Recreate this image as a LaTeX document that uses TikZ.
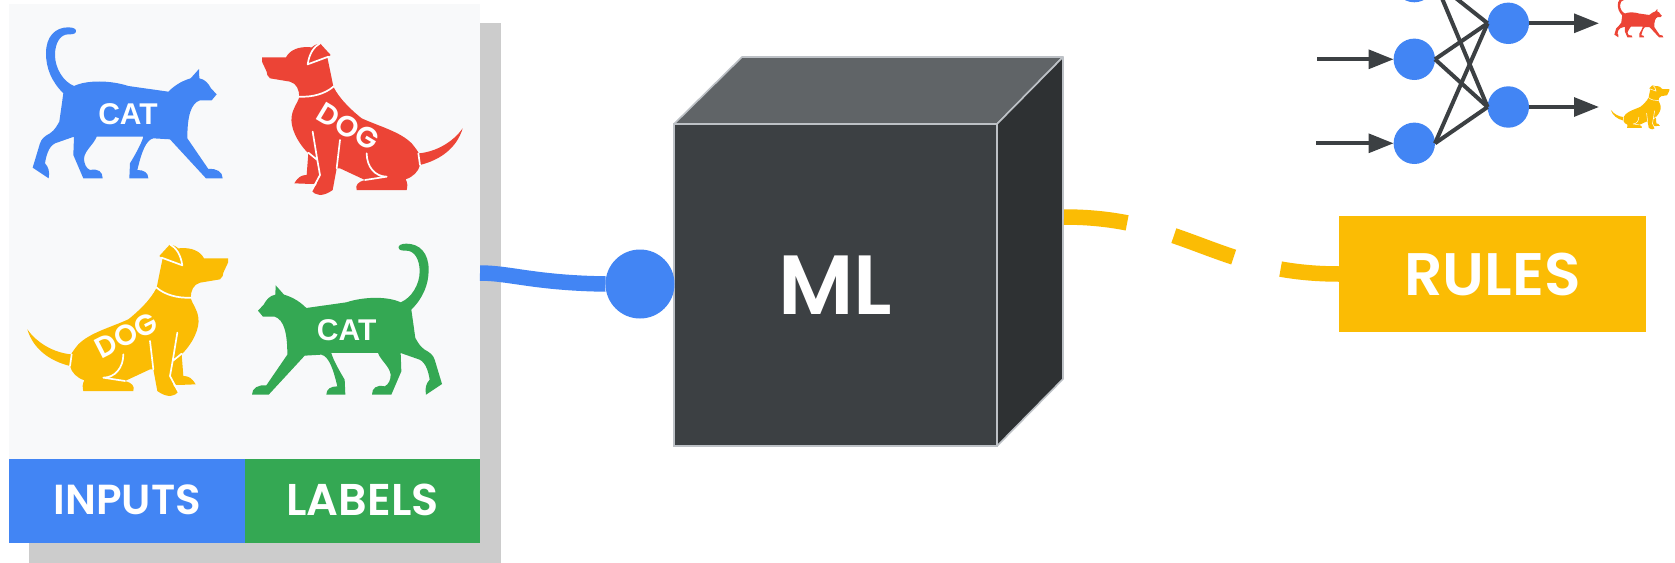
\documentclass[tikz,border=0pt]{standalone}
\usepackage{fontspec}
\setmainfont{Liberation Sans}
\newfontfamily\gs{Poppins SemiBold}
\usetikzlibrary{arrows.meta}
\definecolor{gblue}{HTML}{4285F4}
\definecolor{ggreen}{HTML}{34A853}
\definecolor{gyellow}{HTML}{FBBC04}
\definecolor{gred}{HTML}{EC4436}
\definecolor{panelbg}{HTML}{F8F9FA}
\definecolor{shadowc}{HTML}{CCCCCC}
\definecolor{cubefront}{HTML}{3C4043}
\definecolor{cubetop}{HTML}{606467}
\definecolor{cubeside}{HTML}{2E3133}
\definecolor{cubeedge}{HTML}{BDC1C6}
\newcommand{\catpath}{(190,280) .. controls (155,245) and (138,205) .. (138,160)
 .. controls (138,110) and (165,82) .. (205,82)
 .. controls (222,82) and (230,88) .. (228,95)
 .. controls (226,103) and (215,103) .. (205,103)
 .. controls (180,103) and (165,130) .. (165,165)
 .. controls (165,205) and (190,245) .. (222,258)
 .. controls (260,240) and (330,240) .. (385,258)
 -- (505,275)
 .. controls (530,250) and (555,240) .. (572,235)
 -- (597,207) -- (598,235)
 .. controls (615,238) and (625,250) .. (633,265)
 -- (650,283) -- (635,301) -- (600,301)
 .. controls (572,310) and (562,350) .. (562,415)
 -- (625,507)
 .. controls (650,505) and (668,515) .. (668,535)
 -- (618,535) -- (510,418)
 -- (460,415) .. controls (438,420) and (425,455) .. (412,510)
 .. controls (432,510) and (445,518) .. (445,535)
 -- (388,535) -- (390,490)
 .. controls (405,465) and (425,430) .. (430,410)
 -- (290,410)
 .. controls (280,435) and (255,450) .. (252,475)
 .. controls (252,490) and (258,505) .. (270,510)
 .. controls (295,505) and (308,515) .. (308,535)
 -- (250,535) -- (220,465) -- (222,410) -- (165,430)
 .. controls (145,440) and (138,470) .. (135,490)
 .. controls (145,500) and (150,515) .. (146,535)
 -- (98,503) -- (120,430)
 .. controls (125,415) and (135,408) .. (150,400)
 .. controls (165,390) and (172,375) .. (178,365)
 -- (190,280) -- cycle}
\newcommand{\dogpath}{(66,112) -- (138,112)
 .. controls (150,90) and (175,78) .. (215,82)
 -- (225,75) -- (240,70) -- (272,105) -- (262,112) -- (272,160) -- (280,200)
 .. controls (300,240) and (340,275) .. (365,295)
 .. controls (420,320) and (480,335) .. (515,370)
 .. controls (525,382) and (532,392) .. (537,400)
 .. controls (590,395) and (640,365) .. (668,325)
 .. controls (650,385) and (600,420) .. (540,435)
 .. controls (535,455) and (520,470) .. (497,478)
 .. controls (503,488) and (503,500) .. (500,510)
 -- (350,510)
 .. controls (345,495) and (355,485) .. (375,480)
 -- (300,445) -- (290,445) -- (278,510)
 .. controls (265,520) and (250,525) .. (240,525)
 .. controls (225,522) and (218,518) .. (215,512)
 -- (232,490) -- (215,492) -- (163,490)
 .. controls (175,470) and (185,465) .. (200,465)
 -- (205,400)
 .. controls (170,365) and (150,320) .. (155,290)
 .. controls (158,265) and (172,250) .. (178,232)
 .. controls (178,210) and (170,190) .. (150,185)
 -- (90,175)
 .. controls (82,170) and (80,160) .. (80,155)
 -- (66,125) -- cycle}
\newcommand{\doglines}[1]{%
 \draw[white,line width=#1,line cap=round,line join=round]
  (240,70) .. controls (222,80) and (208,100) .. (203,133) -- (265,110)
  (178,230) .. controls (215,232) and (255,222) .. (280,200)
  (218,335) -- (232,420) -- (240,465) -- (215,512)
  (205,398) -- (232,420)
  (300,360) -- (290,445)
  (380,400) .. controls (380,440) and (405,470) .. (440,470) -- (375,480)
  (535,400) -- (540,435);}
\tikzset{
 box/.style={inner sep=0pt,outer sep=0pt,draw=none},
 bandtext/.style={box,text=white,font=\gs\fontsize{42}{42}\selectfont},
 bodytext/.style={text=white,inner sep=0pt,font=\bfseries\fontsize{30}{30}\selectfont},
 dogtext/.style={text=white,inner sep=0pt,font=\gs\fontsize{29}{29}\selectfont},
 neuron/.style={circle,fill=gblue,draw=none,minimum size=41.4pt,inner sep=0pt,outer sep=0pt},
 edge/.style={draw=cubefront,line width=4pt},
 signal/.style={draw=cubefront,line width=4pt,-{Triangle[length=25pt,width=18.7pt]}},
 cubeface/.style={draw=cubeedge,line width=1.6pt,line join=round}
}
\begin{document}
\begin{tikzpicture}[x=1pt,y=-1pt]
\clip (0,0) rectangle (1675,562);
\fill[white] (0,0) rectangle (1675,562);
% panel
\node[box,fill=shadowc,minimum width=472pt,minimum height=540pt,anchor=north west] (shadow) at (29,23) {};
\node[box,fill=panelbg,minimum width=471pt,minimum height=455pt,anchor=north west] (panel) at (9,4) {};
\node[box,fill=gblue,minimum width=236pt,minimum height=84pt,anchor=north west] (inputs) at (9,459) {};
\node[box,fill=ggreen,minimum width=235pt,minimum height=84pt,anchor=north west] (labels) at (245,459) {};
\node[bandtext] (inputstext) at (127.5,500) {INPUTS};
\node[bandtext,font=\gs\fontsize{44.5}{44.5}\selectfont] (labelstext) at (362.5,500) {LABELS};
% animals
\begin{scope}[shift={(0,0)},scale=1/3]
 \fill[gblue] \catpath;
\end{scope}
\node[bodytext] (cat1) at (128,113.7) {CAT};
\begin{scope}[shift={(474.67,216.33)},xscale=-1/3,yscale=1/3]
 \fill[ggreen] \catpath;
\end{scope}
\node[bodytext] (cat2) at (346.7,330) {CAT};
\begin{scope}[shift={(240,20)},scale=1/3]
 \fill[gred] \dogpath;
 \doglines{1.7pt}
\end{scope}
\node[dogtext,rotate=-31] (dog1) at (348.3,126.7) {DOG};
\begin{scope}[shift={(250,221)},xscale=-1/3,yscale=1/3]
 \fill[gyellow] \dogpath;
 \doglines{1.7pt}
\end{scope}
\node[dogtext,rotate=27] (dog2) at (126.7,335) {DOG};
% cube
\node[box,fill=cubefront,draw=cubeedge,line width=1.6pt,minimum width=323pt,minimum height=322pt,anchor=north west,text=white,font=\gs\fontsize{84}{84}\selectfont] (front) at (674,124) {ML};
\coordinate (tb) at (742,57);
\coordinate (tr) at (1063,57);
\coordinate (br) at (1063,379);
\fill[cubetop,cubeface] (front.north west) -- (tb) -- (tr) -- (front.north east) -- cycle;
\fill[cubeside,cubeface] (front.north east) -- (tr) -- (br) -- (front.south east) -- cycle;
% blue connector
\node[circle,fill=gblue,minimum size=69pt,inner sep=0pt,outer sep=0pt] (dot) at (640,284) {};
\coordinate (bstart) at (480,273);
\draw[gblue,line width=15.5pt] (bstart) .. controls (510,273) and (535,283) .. (dot.west);
% rules
\node[box,fill=gyellow,minimum width=307pt,minimum height=116pt,anchor=north west,text=white,font=\gs\fontsize{60}{60}\selectfont] (rules) at (1339,216) {RULES};
\coordinate (ystart) at (1064,217);
\draw[gyellow,line width=15.5pt,dash pattern=on 63.5pt off 48.5pt] (ystart) .. controls (1185,217) and (1217,274) .. (rules.west);
% network
\node[neuron] (a0) at (1414.3,-18.4) {};
\node[neuron] (a1) at (1414.3,59.3) {};
\node[neuron] (a2) at (1414.3,143.3) {};
\node[neuron] (b1) at (1508.3,23.3) {};
\node[neuron] (b2) at (1508.3,107) {};
\foreach \p in {a0,a1,a2}
 \foreach \q in {b1,b2}
  \draw[edge] (\p.east) -- (\q.west);
\coordinate (in1) at (1317,59.3);
\coordinate (in2) at (1316,143.3);
\coordinate (out1) at (1599,23.3);
\coordinate (out2) at (1599,107);
\draw[signal] (in1) -- (a1.west);
\draw[signal] (in2) -- (a2.west);
\draw[signal] (b1.east) -- (out1);
\draw[signal] (b2.east) -- (out2);
% small animals
\begin{scope}[shift={(1605.9,-8.67)},scale=0.086]
 \fill[gred] \catpath;
\end{scope}
\begin{scope}[shift={(1675.8,78.2)},xscale=-0.0973,yscale=0.0973]
 \fill[gyellow] \dogpath;
 \doglines{0.5pt}
\end{scope}
\end{tikzpicture}
\end{document}
